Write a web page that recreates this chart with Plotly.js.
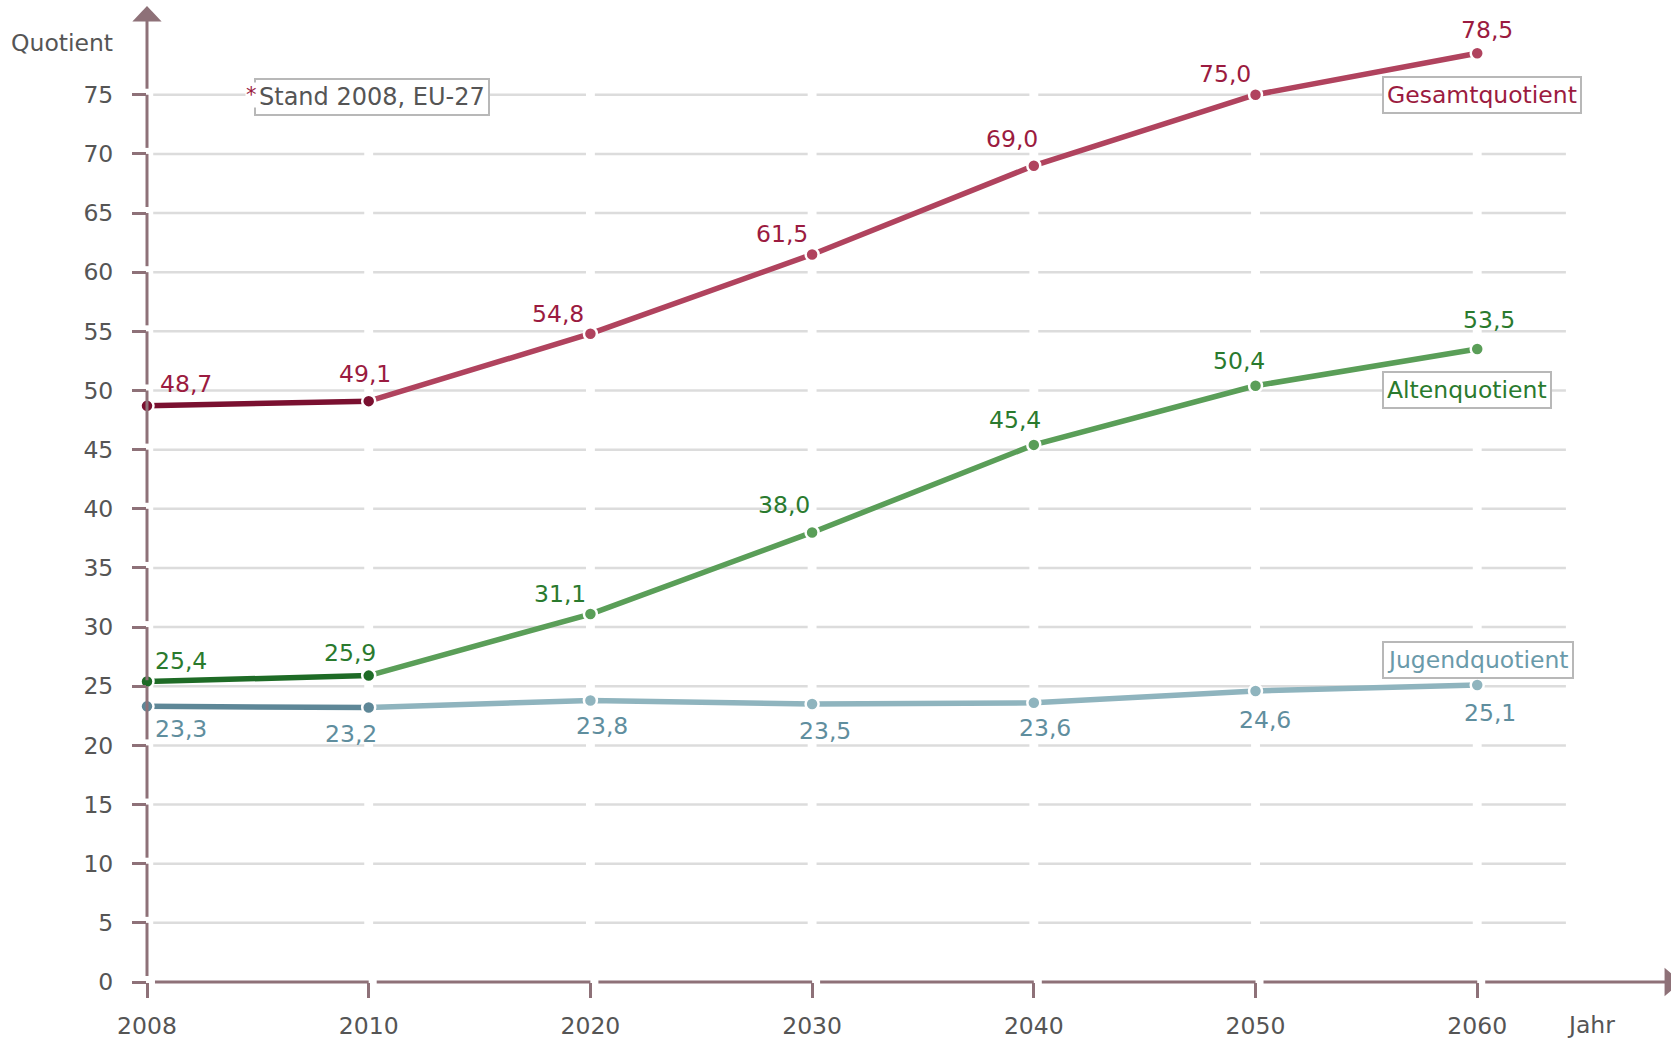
<!DOCTYPE html>
<html><head><meta charset="utf-8">
<script src="https://cdn.plot.ly/plotly-3.0.1.min.js"></script>
<style>body{margin:0;background:#fff}</style></head>
<body><div id="chart" style="width:1671px;height:1039px"></div>
<script>
// ---- data ----
const years  = ['2008','2010','2020','2030','2040','2050','2060'];
const gesamt = [48.7, 49.1, 54.8, 61.5, 69.0, 75.0, 78.5];
const alten  = [25.4, 25.9, 31.1, 38.0, 45.4, 50.4, 53.5];
const jugend = [23.3, 23.2, 23.8, 23.5, 23.6, 24.6, 25.1];
const yTicks = [0,5,10,15,20,25,30,35,40,45,50,55,60,65,70,75];
const seriesNames = ['Gesamtquotient','Altenquotient','Jugendquotient'];
const legendY = [75, 50, 27.2];
const noteText = 'Stand 2008, EU-27';

// ---- style ----
const FONT = 'DejaVu Sans, Verdana, sans-serif';
const FS = 23.5;
const AX = '#8e7178';
const X0 = 0, X1 = 6.874, Y0 = 0, Y1 = 82.5;
const styles = [
  {dark:'#7a1030', light:'#b0435e', text:'#9b1b40', box:'#9b1b40',
   off:[[39,22],[-4,27],[-32,20],[-30,20],[-22,27],[-31,21],[10,23]]},
  {dark:'#1e6b26', light:'#5a9e58', text:'#2a7a2e', box:'#2a7a2e',
   off:[[34,21],[-19,23],[-30,20],[-28,27],[-19,25],[-17,25],[12,29]]},
  {dark:'#5e8797', light:'#8fb4be', text:'#5f8e9e', box:'#6a9aaa',
   off:[[34,-23],[-18,-26],[12,-26],[13,-27],[11,-25],[9,-29],[13,-28]]}
];
const allSeries = [gesamt, alten, jugend];
const xpos = years.map((_, i) => i);
const fmt = v => v.toFixed(1).replace('.', ',');
const px = p => (p - X0) / (X1 - X0);
const py = v => (v - Y0) / (Y1 - Y0);
const PL = 147, PT = 6, PW = 1524, PH = 976;
const fx = pix => (pix - PL) / PW;
const fy = pix => (PT + PH - pix) / PH;

const lineTraces = [], markerTraces = [], annotations = [], shapes = [];

// gridlines (segments with gaps at categories)
const gg = 0.02;
yTicks.filter(v => v > 0).forEach(v => {
  xpos.forEach((p, i) => {
    const end = i < xpos.length - 1 ? xpos[i+1] - gg : 6.40;
    shapes.push({type:'line', xref:'x', yref:'y', x0:p+gg+(i===0?0.008:0), x1:end, y0:v, y1:v,
      line:{color:'#dcdcdc', width:2.5}, layer:'below'});
  });
});

// y axis segments (gap above each tick)
const gy = 6 / (PH / (Y1 - Y0));
for (let k = 1; k < yTicks.length; k++) {
  shapes.push({type:'line', xref:'paper', yref:'paper', x0:px(0), x1:px(0),
    y0:py(yTicks[k-1]+gy), y1:py(yTicks[k]), line:{color:AX, width:3}});
}
shapes.push({type:'line', xref:'paper', yref:'paper', x0:px(0), x1:px(0),
  y0:py(75+gy), y1:py(81.3), line:{color:AX, width:3}});
shapes.push({type:'path', xref:'paper', yref:'paper',
  path:`M ${px(-0.066)},${py(81.2)} L ${px(0.066)},${py(81.2)} L ${px(0)},${py(82.5)} Z`,
  fillcolor:AX, line:{color:AX, width:0}});
// x axis segments (gap right of each tick)
const gx = 0.036;
xpos.forEach((p, i) => {
  const end = i < xpos.length - 1 ? xpos[i+1] : 6.85;
  shapes.push({type:'line', xref:'paper', yref:'paper', x0:px(p+gx), x1:px(end),
    y0:py(0), y1:py(0), line:{color:AX, width:3}});
});
shapes.push({type:'path', xref:'paper', yref:'paper',
  path:`M ${px(6.845)},${py(1.2)} L ${px(6.845)},${py(-1.2)} L ${px(6.92)},${py(0)} Z`,
  fillcolor:AX, line:{color:AX, width:0}});

allSeries.forEach((vals, s) => {
  const st = styles[s];
  lineTraces.push({x:xpos.slice(0,2), y:vals.slice(0,2), mode:'lines', type:'scatter',
    line:{color:st.dark, width:5.5}, cliponaxis:false, hoverinfo:'skip'});
  lineTraces.push({x:xpos.slice(1), y:vals.slice(1), mode:'lines', type:'scatter',
    line:{color:st.light, width:5.5}, cliponaxis:false, hoverinfo:'skip'});
  markerTraces.push({x:xpos, y:vals, mode:'markers', type:'scatter', cliponaxis:false,
    marker:{size:13, color:xpos.map(i => i < 2 ? st.dark : st.light), line:{color:'#fff', width:2.5}}});
  vals.forEach((v, i) => {
    annotations.push({x:xpos[i], y:v, xref:'x', yref:'y', text:fmt(v), showarrow:false,
      xshift:st.off[i][0], yshift:st.off[i][1], font:{family:FONT, size:FS, color:st.text}});
  });
  annotations.push({x:5.57, y:legendY[s], xref:'x', yref:'y', xanchor:'left', yanchor:'middle',
    text:seriesNames[s], showarrow:false, bgcolor:'#fff', bordercolor:'#b8b8b8', borderwidth:2,
    borderpad:3, font:{family:FONT, size:FS, color:st.box}});
});

// note box
annotations.push({x:0.483, y:74.8, xref:'x', yref:'y', xanchor:'left', yanchor:'middle',
  text:noteText, showarrow:false,
  bgcolor:'#fff', bordercolor:'#b8b8b8', borderwidth:2, borderpad:3,
  font:{family:FONT, size:FS + 0.5, color:'#555'}});
annotations.push({x:0.47, y:74.95, xref:'x', yref:'y', xanchor:'center', yanchor:'middle',
  text:'*', showarrow:false, bgcolor:'#fff', borderpad:0,
  font:{family:FONT, size:21, color:'#9b1b40'}});
// axis titles
annotations.push({x:fx(62), y:fy(43), xref:'paper', yref:'paper', xanchor:'center', yanchor:'middle',
  text:'Quotient', showarrow:false, font:{family:FONT, size:FS, color:'#555'}});
annotations.push({x:fx(1591), y:fy(1025), xref:'paper', yref:'paper', xanchor:'center', yanchor:'middle',
  text:'Jahr', showarrow:false, font:{family:FONT, size:FS, color:'#555'}});

const layout = {
  width:1671, height:1039, margin:{l:PL, r:0, t:PT, b:1039-PT-PH},
  paper_bgcolor:'#fff', plot_bgcolor:'#fff', showlegend:false,
  font:{family:FONT, size:FS, color:'#555'},
  xaxis:{range:[X0, X1], tickvals:xpos, ticktext:years, showgrid:false, zeroline:false, showline:false,
    ticks:'outside', ticklen:15, tickwidth:3, tickcolor:AX, ticklabelstandoff:8,
    tickfont:{family:FONT, size:FS, color:'#555'}, fixedrange:true},
  yaxis:{range:[Y0, Y1], tickvals:yTicks, showgrid:false, zeroline:false, showline:false,
    ticks:'outside', ticklen:14, tickwidth:3, tickcolor:AX, ticklabelstandoff:14,
    tickfont:{family:FONT, size:FS, color:'#555'}, fixedrange:true},
  shapes:shapes, annotations:annotations
};
Plotly.newPlot('chart', lineTraces.concat(markerTraces), layout, {displayModeBar:false, staticPlot:true});
</script></body></html>
